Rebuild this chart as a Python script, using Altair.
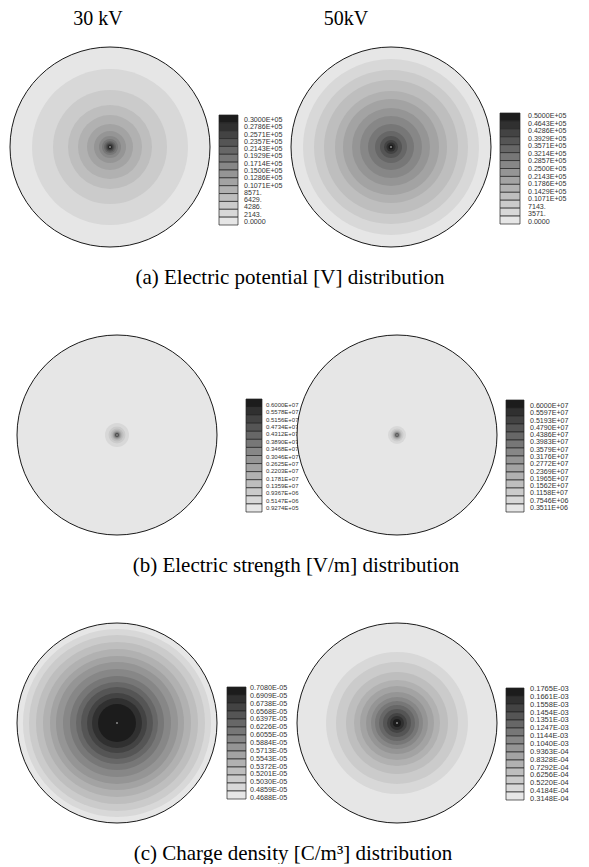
import altair as alt
import pandas as pd
import numpy as np

# ---------------- data ----------------
column_titles = ["30 kV", "50kV"]
captions = ["(a) Electric potential [V] distribution",
            "(b) Electric strength [V/m] distribution",
            "(c) Charge density [C/m³] distribution"]

# outer radius of every contour band, % of disk radius; level 0 (outer, lowest) .. level 13 (centre, highest)
pot_30_radii = [100, 78, 57, 42, 32, 23, 16, 11, 8, 6, 4.5, 3.3, 2.3, 1.5]
pot_50_radii = [100, 88, 77, 67, 56, 48, 39, 31, 23, 16, 11, 7, 4.5, 2.5]
field_30_radii = [100, 12, 8.5, 6.5, 5, 4, 3.3, 2.8, 2.4, 2.0, 1.7, 1.4, 1.1, 0.8]
field_50_radii = [100, 9, 6.5, 5, 4, 3.3, 2.8, 2.4, 2.0, 1.7, 1.4, 1.2, 1.0, 0.7]
rho_30_radii = [100, 94, 88, 81, 74, 67, 61, 54, 47, 41, 36, 30, 25, 19]
rho_50_radii = [100, 71, 61, 51, 43, 37, 31, 26, 22, 18, 14, 10, 7, 4]
centre_hole = 0.8

pot_30_labels = ["0.3000E+05", "0.2786E+05", "0.2571E+05", "0.2357E+05", "0.2143E+05",
                 "0.1929E+05", "0.1714E+05", "0.1500E+05", "0.1286E+05", "0.1071E+05",
                 "8571.", "6429.", "4286.", "2143.", "0.0000"]
pot_50_labels = ["0.5000E+05", "0.4643E+05", "0.4286E+05", "0.3929E+05", "0.3571E+05",
                 "0.3214E+05", "0.2857E+05", "0.2500E+05", "0.2143E+05", "0.1786E+05",
                 "0.1429E+05", "0.1071E+05", "7143.", "3571.", "0.0000"]
field_30_labels = ["0.6000E+07", "0.5578E+07", "0.5156E+07", "0.4734E+07", "0.4312E+07",
                   "0.3890E+07", "0.3468E+07", "0.3046E+07", "0.2625E+07", "0.2203E+07",
                   "0.1781E+07", "0.1359E+07", "0.9367E+06", "0.5147E+06", "0.9274E+05"]
field_50_labels = ["0.6000E+07", "0.5597E+07", "0.5193E+07", "0.4790E+07", "0.4386E+07",
                   "0.3983E+07", "0.3579E+07", "0.3176E+07", "0.2772E+07", "0.2369E+07",
                   "0.1965E+07", "0.1562E+07", "0.1158E+07", "0.7546E+06", "0.3511E+06"]
rho_30_labels = ["0.7080E-05", "0.6909E-05", "0.6738E-05", "0.6568E-05", "0.6397E-05",
                 "0.6226E-05", "0.6055E-05", "0.5884E-05", "0.5713E-05", "0.5543E-05",
                 "0.5372E-05", "0.5201E-05", "0.5030E-05", "0.4859E-05", "0.4688E-05"]
rho_50_labels = ["0.1765E-03", "0.1661E-03", "0.1558E-03", "0.1454E-03", "0.1351E-03",
                 "0.1247E-03", "0.1144E-03", "0.1040E-03", "0.9363E-04", "0.8328E-04",
                 "0.7292E-04", "0.6256E-04", "0.5220E-04", "0.4184E-04", "0.3148E-04"]

# ---------------- style / layout ----------------
GRAYS = ["#e6e6e6", "#d8d8d8", "#cbcbcb", "#bebebe", "#b1b1b1", "#a3a3a3", "#959595",
         "#878787", "#777777", "#676767", "#555555", "#434343", "#303030", "#1c1c1c"]
LEVELS = list(range(14))
SERIF = "Liberation Serif"
LABEL_FONT = "Liberation Sans Narrow, Arial Narrow, Liberation Sans, sans-serif"
H = 204
ROW_TOPS = [44, 332, 620]
DISK_R_PX = 100
COL_X = [0, 234, 289, 505]          # left edge of the four grid columns
COL2_W, COL4_W = 55, 84
LEFT_DISK_W = [220, 234, 234]       # disk centre = width / 2
RIGHT_DISK_W = [204, 216, 216]
CAPTION_X = [290, 296, 293]

# legend geometry: box left, box width, box top/bottom, label top/bottom, gap, font size
LEG_L = [dict(bx=219, bw=19, bt=114, bb=224, lt=119, lb=221, gap=6, fs=7.1),
         dict(bx=246, bw=16, bt=398, bb=511, lt=404, lb=507, gap=4, fs=6),
         dict(bx=227, bw=19, bt=686, bb=798, lt=687, lb=797, gap=4, fs=7.2)]
LEG_R = [dict(bx=500, bw=20, bt=112, bb=223, lt=115, lb=221, gap=8, fs=7.1),
         dict(bx=506, bw=18, bt=399, bb=511, lt=405, lb=507, gap=6, fs=7.1),
         dict(bx=506, bw=18, bt=687, bb=799, lt=688, lb=798, gap=6, fs=7.5)]

color_scale = alt.Scale(domain=LEVELS, range=GRAYS)
radius_scale = alt.Scale(type="linear", domain=[0, 100], range=[0, DISK_R_PX], zero=True, nice=False)


def rad(field):
    return alt.Radius(field, type="quantitative", scale=radius_scale, stack=None)


def disk(radii, width, title=None):
    rings = pd.DataFrame({"level": LEVELS, "r": radii}).sort_values("r", ascending=False)
    fill = alt.Chart(rings).mark_arc(theta=0, theta2=2 * np.pi, strokeWidth=0).encode(
        radius=rad("r"),
        color=alt.Color("level:O", scale=color_scale, legend=None),
    )
    hole = alt.Chart(pd.DataFrame({"r": [centre_hole]})).mark_arc(
        theta=0, theta2=2 * np.pi, fill="#d9d9d9", strokeWidth=0).encode(radius=rad("r"))
    edge = alt.Chart(pd.DataFrame({"r": [radii[0]]})).mark_arc(
        theta=0, theta2=2 * np.pi, fillOpacity=0, stroke="#1a1a1a", strokeWidth=1).encode(radius=rad("r"))
    props = dict(width=width, height=H)
    if title is not None:
        props["title"] = title
    return alt.layer(fill, hole, edge).properties(**props)


def legend(labels, p, view_x0, view_w, row_top, title=None):
    bw = p["bw"]
    off = p["bx"] - view_x0
    xdom = [-off / bw, (view_w - off) / bw]
    u = (p["bb"] - p["bt"]) / 14.0
    ydom = [-(p["bt"] - row_top) / u, 14 + (row_top + H - p["bb"]) / u]
    ul = (p["lb"] - p["lt"]) / 14.0
    ydom_l = [-(p["lt"] - row_top) / ul, 14 + (row_top + H - p["lb"]) / ul]
    boxes = pd.DataFrame({"y0": list(range(14)), "y1": list(range(1, 15)),
                          "level": LEVELS[::-1], "x0": 0, "x1": 1})
    labs = pd.DataFrame({"k": list(range(15)), "label": labels, "x1": 1})
    rect = alt.Chart(boxes).mark_rect(stroke="#222222", strokeWidth=0.7).encode(
        x=alt.X("x0:Q", scale=alt.Scale(domain=xdom, nice=False, zero=False), axis=None),
        x2="x1:Q",
        y=alt.Y("y0:Q", scale=alt.Scale(domain=ydom, nice=False, zero=False, reverse=True), axis=None),
        y2="y1:Q",
        color=alt.Color("level:O", scale=color_scale, legend=None),
    )
    text = alt.Chart(labs).mark_text(align="left", baseline="middle", dx=p["gap"],
                                     font=LABEL_FONT, fontSize=p["fs"], color="#333333").encode(
        x=alt.X("x1:Q", scale=alt.Scale(domain=xdom, nice=False, zero=False), axis=None),
        y=alt.Y("k:Q", scale=alt.Scale(domain=ydom_l, nice=False, zero=False, reverse=True), axis=None),
        text="label:N",
    )
    props = dict(width=view_w, height=H)
    if title is not None:
        props["title"] = title
    return alt.layer(rect, text).resolve_scale(y="independent").properties(**props)


def top_title(text, dx):
    return alt.TitleParams(text, font=SERIF, fontSize=20, fontWeight="normal", color="black",
                           offset=16, dx=dx)


def caption(i):
    centre = COL_X[1] + COL2_W / 2
    return alt.TitleParams(captions[i], orient="bottom", anchor="middle", font=SERIF,
                           fontSize=21, fontWeight="normal", color="black", offset=18,
                           dx=CAPTION_X[i] - centre)


left_radii = [pot_30_radii, field_30_radii, rho_30_radii]
right_radii = [pot_50_radii, field_50_radii, rho_50_radii]
left_labels = [pot_30_labels, field_30_labels, rho_30_labels]
right_labels = [pot_50_labels, field_50_labels, rho_50_labels]

cells = []
for i in range(3):
    cells.append(disk(left_radii[i], LEFT_DISK_W[i],
                      top_title(column_titles[0], 98 - LEFT_DISK_W[0] / 2) if i == 0 else None))
    cells.append(legend(left_labels[i], LEG_L[i], COL_X[1], COL2_W, ROW_TOPS[i], caption(i)))
    cells.append(disk(right_radii[i], RIGHT_DISK_W[i],
                      top_title(column_titles[1], 346 - (COL_X[2] + RIGHT_DISK_W[0] / 2)) if i == 0 else None))
    cells.append(legend(right_labels[i], LEG_R[i], COL_X[3], COL4_W, ROW_TOPS[i]))

chart = alt.concat(*cells, columns=4, align="each", bounds="flush",
                   spacing={"row": 84, "column": 0}).properties(
    padding={"left": 0, "right": 0, "top": 9, "bottom": 0},
    background="white",
).configure_view(strokeWidth=0)

chart.save("out.html", embed_options={"renderer": "svg", "actions": False})
